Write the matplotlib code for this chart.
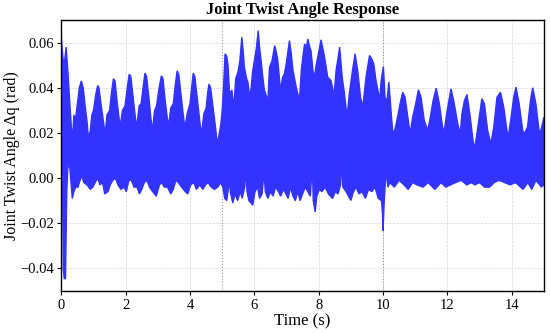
import matplotlib
matplotlib.use("Agg")
import matplotlib.pyplot as plt
import numpy as np

plt.rcParams['font.family'] = ['Liberation Serif', 'DejaVu Serif']
plt.rcParams['axes.unicode_minus'] = True

# upper envelope of the response (time s, angle rad)
upper_t = [0.00, 0.04, 0.08, 0.15, 0.21, 0.26, 0.31, 0.34, 0.39, 0.44, 0.50, 0.56, 0.62, 0.68, 0.74, 0.80,
           0.84, 0.90, 0.95, 1.00, 1.07, 1.13, 1.17, 1.24, 1.31, 1.36, 1.42, 1.50, 1.56, 1.62, 1.67, 1.74,
           1.80, 1.83, 1.90, 1.98, 2.05, 2.11, 2.16, 2.23, 2.30, 2.34, 2.42, 2.48, 2.54, 2.60, 2.65, 2.72,
           2.78, 2.83, 2.90, 2.96, 3.04, 3.11, 3.16, 3.23, 3.30, 3.34, 3.40, 3.48, 3.54, 3.60, 3.65, 3.72,
           3.79, 3.84, 3.92, 4.00, 4.05, 4.10, 4.15, 4.22, 4.29, 4.35, 4.43, 4.50, 4.55, 4.59, 4.64, 4.71,
           4.78, 4.85, 4.90, 4.96,
           5.00, 5.04, 5.09, 5.14, 5.18, 5.23, 5.30, 5.36, 5.42, 5.49, 5.55, 5.61, 5.66, 5.69, 5.76, 5.80,
           5.85, 5.90, 5.95, 6.06, 6.12, 6.16, 6.21, 6.26, 6.31, 6.38, 6.42, 6.47, 6.55, 6.63, 6.68, 6.73,
           6.81, 6.88, 6.93, 6.99, 7.09, 7.14, 7.20, 7.30, 7.40, 7.46, 7.52, 7.56, 7.62, 7.66, 7.72, 7.76,
           7.82, 7.87, 7.92, 7.97, 8.07, 8.12, 8.18, 8.28, 8.38, 8.43, 8.47, 8.54, 8.60, 8.65, 8.73, 8.80,
           8.88, 8.95, 9.05, 9.13, 9.21, 9.30, 9.37, 9.47, 9.53, 9.58, 9.64, 9.71, 9.78, 9.84, 9.89, 9.94,
           10.01, 10.06, 10.12, 10.18, 10.23, 10.30, 10.36, 10.45, 10.53, 10.61, 10.68, 10.77, 10.84, 10.92,
           11.00, 11.10, 11.18, 11.28, 11.39, 11.47, 11.55, 11.65, 11.75, 11.85, 11.90, 11.98, 12.11, 12.20,
           12.32, 12.40, 12.45, 12.53, 12.61, 12.71, 12.82, 12.88, 12.96, 13.07, 13.15, 13.25, 13.35, 13.44,
           13.54, 13.65, 13.75, 13.85, 13.89, 13.98, 14.06, 14.13, 14.23, 14.34, 14.39, 14.49, 14.58, 14.65,
           14.75, 14.86, 14.92, 15.00]
upper_v = [0.062, 0.055, 0.049, 0.058, 0.046, 0.034, 0.023, 0.016, 0.028, 0.026, 0.033, 0.040, 0.043, 0.040, 0.032, 0.025,
           0.018, 0.021, 0.028, 0.030, 0.037, 0.041, 0.040, 0.032, 0.025, 0.0195, 0.028, 0.030, 0.038, 0.044, 0.043, 0.033,
           0.026, 0.023, 0.030, 0.032, 0.040, 0.046, 0.045, 0.036, 0.027, 0.0224, 0.032, 0.033, 0.040, 0.0465, 0.045, 0.036,
           0.027, 0.021, 0.030, 0.032, 0.040, 0.0453, 0.044, 0.034, 0.026, 0.0235, 0.031, 0.033, 0.041, 0.0475, 0.046, 0.037,
           0.028, 0.0224, 0.029, 0.033, 0.040, 0.0465, 0.045, 0.036, 0.027, 0.019, 0.0285, 0.031, 0.038, 0.0416, 0.040, 0.032,
           0.024, 0.015, 0.019, 0.024,
           0.030, 0.040, 0.055, 0.054, 0.050, 0.037, 0.039, 0.031, 0.044, 0.047, 0.052, 0.0624, 0.055, 0.049, 0.044, 0.0425,
           0.036, 0.040, 0.0477, 0.0572, 0.0653, 0.058, 0.052, 0.045, 0.039, 0.036, 0.0344, 0.049, 0.052, 0.0587, 0.056, 0.052,
           0.039, 0.0447, 0.046, 0.0506, 0.0609, 0.056, 0.0477, 0.0403, 0.0344, 0.048, 0.055, 0.0594, 0.058, 0.0616, 0.058, 0.0565,
           0.0477, 0.0447, 0.050, 0.0536, 0.0612, 0.058, 0.0536, 0.0447, 0.0432, 0.040, 0.0358, 0.0477, 0.053, 0.058, 0.0447, 0.0373,
           0.027, 0.0373, 0.0477, 0.055, 0.0477, 0.0358, 0.0314, 0.0447, 0.050, 0.0543, 0.053, 0.0506, 0.0432, 0.0388, 0.0344, 0.0432,
           0.0494, 0.0358, 0.034, 0.0425, 0.0329, 0.0204, 0.021, 0.027, 0.033, 0.038, 0.036, 0.027, 0.0196, 0.027,
           0.032, 0.0391, 0.0358, 0.0255, 0.0211, 0.027, 0.034, 0.0398, 0.0329, 0.0226, 0.0204, 0.029, 0.0395, 0.034,
           0.0241, 0.0196, 0.0285, 0.0344, 0.037, 0.027, 0.0137, 0.016, 0.0241, 0.0351, 0.0329, 0.0211, 0.0152, 0.0226,
           0.0358, 0.038, 0.0314, 0.0211, 0.0182, 0.027, 0.0358, 0.0403, 0.0329, 0.0211, 0.0196, 0.0226, 0.0344, 0.040,
           0.0329, 0.0196, 0.022, 0.027]

# lower envelope
lower_t = [0.00, 0.04, 0.06, 0.09, 0.13, 0.15, 0.17, 0.20, 0.25, 0.29, 0.34, 0.39, 0.45, 0.52, 0.58, 0.63,
           0.70, 0.80, 0.90, 0.98, 1.05, 1.13, 1.20, 1.28, 1.35, 1.45, 1.52, 1.60, 1.68, 1.76, 1.85, 1.95,
           2.02, 2.10, 2.18, 2.26, 2.35, 2.43, 2.50, 2.58, 2.66, 2.74, 2.84, 2.95, 3.05, 3.12, 3.20, 3.30,
           3.40, 3.48, 3.56, 3.64, 3.74, 3.85, 3.93, 4.02, 4.12, 4.20, 4.30, 4.40, 4.48, 4.56, 4.66, 4.76,
           4.86, 4.95,
           5.02, 5.08, 5.14, 5.20, 5.22, 5.25, 5.33, 5.40, 5.48, 5.56, 5.62, 5.70, 5.74, 5.77, 5.83, 5.95,
           6.02, 6.10, 6.16, 6.24, 6.30, 6.34, 6.42, 6.50, 6.58, 6.66, 6.75, 6.82, 6.90, 6.98, 7.05, 7.12,
           7.20, 7.27, 7.35, 7.42, 7.50, 7.58, 7.66, 7.74, 7.80, 7.83, 7.89, 7.94, 8.02, 8.10, 8.20, 8.30,
           8.43, 8.52, 8.60, 8.68, 8.72, 8.75, 8.85, 9.00, 9.08, 9.16, 9.25, 9.35, 9.45, 9.55, 9.65, 9.75,
           9.85, 9.95, 9.98, 10.00, 10.03, 10.07, 10.10, 10.15,
           10.21, 10.35, 10.50, 10.65, 10.78, 10.92, 11.05, 11.24, 11.40, 11.61, 11.80, 11.95, 12.10, 12.25,
           12.43, 12.60, 12.75, 12.85, 13.00, 13.15, 13.31, 13.45, 13.60, 13.78, 13.95, 14.12, 14.35, 14.50,
           14.62, 14.75, 14.92, 15.00]
lower_v = [0.005, -0.005, -0.040, -0.0445, -0.0445, -0.024, -0.006, 0.004, 0.007, 0.000, -0.009, -0.006, -0.004, -0.004, -0.001, 0.001,
           -0.002, -0.003, -0.005, -0.004, -0.002, 0.000, -0.003, -0.002, -0.007, -0.006, -0.003, -0.001, 0.000, -0.003, -0.005, -0.004,
           -0.006, -0.001, -0.001, -0.004, -0.004, -0.007, -0.005, -0.002, -0.001, -0.004, -0.006, -0.008, -0.003, -0.002, -0.004, -0.004,
           -0.007, -0.005, -0.001, -0.002, -0.004, -0.006, -0.007, -0.003, -0.002, -0.005, -0.003, -0.005, -0.003, -0.002, -0.004, -0.005,
           -0.004, -0.002,
           -0.004, -0.009, -0.010, -0.004, 0.005, -0.006, -0.011, -0.007, -0.010, -0.006, -0.009, -0.004, 0.005, -0.006, -0.010, -0.012,
           -0.006, -0.004, -0.009, -0.007, 0.003, -0.006, -0.009, -0.006, -0.008, -0.004, -0.006, -0.008, -0.005, -0.007, -0.009, -0.004,
           -0.008, -0.010, -0.006, -0.010, -0.007, -0.004, -0.006, -0.008, 0.006, -0.010, -0.015, -0.008, -0.005, -0.006, -0.004, -0.007,
           -0.009, -0.006, -0.007, -0.003, 0.008, -0.004, -0.006, -0.0099, -0.006, -0.004, -0.007, -0.006, -0.009, -0.005, -0.006, -0.004,
           -0.009, -0.010, -0.015, -0.0233, -0.012, -0.002, 0.003, -0.004,
           -0.002, -0.004, -0.001, -0.003, -0.005, -0.002, -0.003, -0.004, -0.002, -0.005, -0.002, -0.004, -0.003, -0.002,
           -0.001, -0.003, -0.002, -0.003, -0.002, -0.004, -0.004, -0.002, -0.001, -0.002, -0.003, -0.002, -0.005, -0.002,
           -0.005, -0.001, -0.004, -0.003]

x_ticks = [0, 2, 4, 6, 8, 10, 12, 14]
y_ticks = [-0.04, -0.02, 0.00, 0.02, 0.04, 0.06]
phase_marks = [5, 10]

fig = plt.figure(figsize=(5.5, 3.33), dpi=100)
ax = fig.add_axes([0.1115, 0.126, 0.8775, 0.814])

# band traced by the fast oscillation
band_t = np.concatenate([upper_t, lower_t[::-1]])
band_v = np.concatenate([upper_v, lower_v[::-1]])
ax.fill(band_t, band_v, facecolor='#3333ff', edgecolor='#3333ff', linewidth=1.0, zorder=2)

for xm in phase_marks:
    ax.axvline(xm, color='gray', linestyle=':', linewidth=0.8, alpha=0.8, zorder=1)

ax.set_xlim(0, 15)
ax.set_ylim(-0.05, 0.07)
ax.set_xticks(x_ticks)
ax.set_yticks(y_ticks)
ax.set_yticklabels([f"{v:.2f}".replace('-', '\u2212') for v in y_ticks])
ax.tick_params(labelsize=10.5, length=3, width=0.8, pad=2.5)
ax.grid(True, linestyle='--', linewidth=0.5, color='#cccccc', alpha=0.8)
ax.set_axisbelow(True)
for s in ax.spines.values():
    s.set_linewidth(1.0)

ax.set_title("Joint Twist Angle Response", fontsize=12, fontweight='bold', pad=4)
ax.set_xlabel("Time (s)", fontsize=12, labelpad=1)
ax.set_ylabel("Joint Twist Angle \u0394q (rad)", fontsize=11.5, labelpad=0)

fig.savefig("out.png", dpi=100)
